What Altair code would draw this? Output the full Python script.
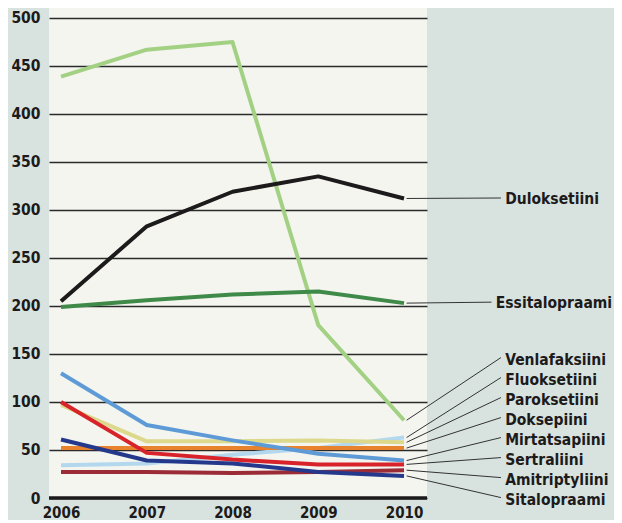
import altair as alt
import pandas as pd

years = [2006, 2007, 2008, 2009, 2010]

names = ["Venlafaksiini", "Duloksetiini", "Essitalopraami", "Fluoksetiini",
         "Paroksetiini", "Doksepiini", "Mirtatsapiini", "Sertraliini",
         "Amitriptyliini", "Sitalopraami"]

venlafaksiini = [439, 467, 475, 180, 81]
duloksetiini = [205, 283, 319, 335, 312]
essitalopraami = [199, 206, 212, 215, 203]
fluoksetiini = [34, 36, 45, 52, 63]
paroksetiini = [97, 59, 59, 60, 58]
doksepiini = [52, 52, 52, 52, 52]
mirtatsapiini = [130, 76, 60, 46, 39]
sertraliini = [100, 47, 40, 35, 35]
amitriptyliini = [27, 27, 26, 27, 29]
sitalopraami = [61, 39, 36, 27, 23]

colors = ["#a3d184", "#1c1a1a", "#3f8a48", "#b3d8ee",
          "#dcd98c", "#e8822c", "#5e9bd6", "#d8232a",
          "#9b2c37", "#25398c"]

series = [venlafaksiini, duloksetiini, essitalopraami, fluoksetiini,
          paroksetiini, doksepiini, mirtatsapiini, sertraliini,
          amitriptyliini, sitalopraami]

rows = []
for n, vals in zip(names, series):
    for yr, v in zip(years, vals):
        rows.append({"drug": n, "year": yr, "value": v})
df = pd.DataFrame(rows)

# label layout (in data units of the scales)
lab_x = 2011.18
lab_rows = []
upper = {"Duloksetiini": 311.5, "Essitalopraami": 203}
lower = ["Venlafaksiini", "Fluoksetiini", "Paroksetiini", "Doksepiini",
         "Mirtatsapiini", "Sertraliini", "Amitriptyliini", "Sitalopraami"]
for n, vals in zip(names, series):
    if n in upper:
        ly = upper[n]
        lx = lab_x if n == "Duloksetiini" else lab_x - 0.11
        cy = ly + 1
    else:
        i = lower.index(n)
        ly = 143.75 - i * 20.83
        lx = lab_x
        cy = ly + 2.5
    lab_rows.append({"drug": n, "lx": lx, "ly": ly,
                     "x0": 2010.03, "y0": vals[-1], "x1": lx - 0.05, "y1": cy})
lab = pd.DataFrame(lab_rows)

font = "DejaVu Sans Condensed, sans-serif"

xscale = alt.Scale(domain=[2005.86, 2010.268], nice=False, zero=False)
yscale = alt.Scale(domain=[0, 510.4], nice=False)

lines = alt.Chart(df).mark_line(strokeWidth=4, strokeJoin="round").encode(
    x=alt.X("year:Q", scale=xscale,
            axis=alt.Axis(values=years, format="d", title=None, grid=False,
                          domain=False, ticks=False, labelPadding=7,
                          labelFontSize=15, labelFont=font, labelFontWeight="bold",
                          labelColor="#1c1a1a", labelFlush=False)),
    y=alt.Y("value:Q", scale=yscale,
            axis=alt.Axis(values=list(range(0, 501, 50)), title=None, grid=True,
                          gridColor="#2a2a2a", gridWidth=1.3, domain=False,
                          ticks=False, labelPadding=9, labelFontSize=15.5,
                          labelFont=font, labelFontWeight="bold",
                          labelColor="#1c1a1a")),
    color=alt.Color("drug:N", scale=alt.Scale(domain=names, range=colors),
                    legend=None),
    detail="drug:N",
)

zero_df = pd.DataFrame({"v": [0]})
zero = alt.Chart(zero_df).mark_rule(color="#1c1a1a", strokeWidth=3.5).encode(
    y=alt.Y("v:Q", scale=yscale)
)

connectors = alt.Chart(lab).mark_rule(color="#333333", strokeWidth=1).encode(
    x=alt.X("x0:Q", scale=xscale),
    x2="x1:Q",
    y=alt.Y("y0:Q", scale=yscale),
    y2="y1:Q",
)

texts = alt.Chart(lab).mark_text(align="left", baseline="middle", font=font,
                                 fontSize=15.5, fontWeight="bold",
                                 color="#1c1a1a").encode(
    x=alt.X("lx:Q", scale=xscale),
    y=alt.Y("ly:Q", scale=yscale),
    text="drug:N",
)

chart = alt.layer(connectors, lines, zero, texts).properties(
    width=378, height=490,
    autosize="none",
    padding={"left": 41, "top": 0, "right": 187, "bottom": 22},
    background="#d8e3df",
).configure_view(fill="#f4f5ef", strokeWidth=0)

chart.save("out.html", embed_options={"renderer": "svg", "actions": False})
